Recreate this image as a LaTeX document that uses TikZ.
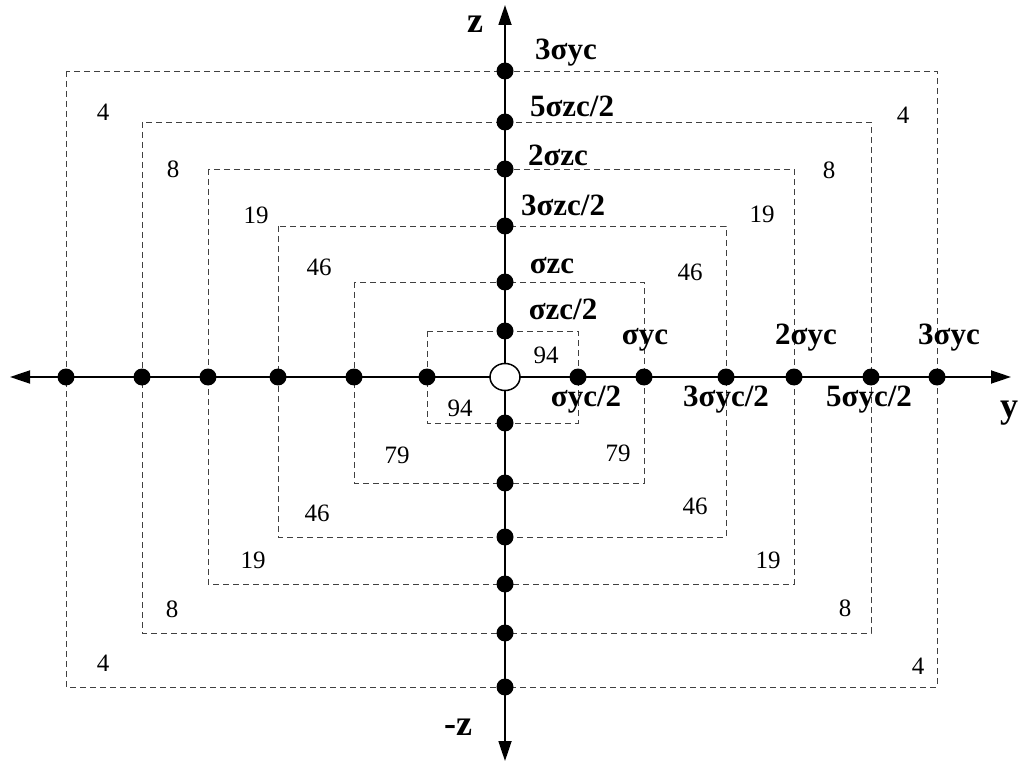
\documentclass[tikz,border=0pt]{standalone}
\usepackage{fontspec}
\setmainfont{Liberation Serif}
\usetikzlibrary{arrows.meta,shapes.geometric}
\begin{document}
\begin{tikzpicture}[x=1pt,y=-1pt,
  zone/.style={draw=black!75,line width=0.9pt,dash pattern=on 6pt off 4pt},
  axisline/.style={line width=1.8pt,-{Triangle[length=20pt,width=13pt]}},
  dotnode/.style={circle,fill=black,inner sep=0pt,minimum size=17pt},
  tag/.style={inner sep=0pt,font=\fontsize{31}{32}\selectfont\bfseries},
  axlab/.style={inner sep=0pt,font=\fontsize{36}{37}\selectfont\bfseries},
  pct/.style={inner sep=0pt,font=\fontsize{25}{26}\selectfont}]
\useasboundingbox (0,0) rectangle (1021,762);

% nested dashed zones
\draw[zone] (66,71) rectangle (937,687);
\draw[zone] (142,122) rectangle (871,633);
\draw[zone] (208,169) rectangle (794,584);
\draw[zone] (278,226) rectangle (726,537);
\draw[zone] (354,282) rectangle (644,483);
\draw[zone] (427,331) rectangle (578,423);

% axes
\coordinate (c) at (505,377);
\coordinate (yl) at (10,377);
\coordinate (yr) at (1011,377);
\coordinate (zt) at (505,5);
\coordinate (zb) at (505,761);
\draw[axisline] (c) -- (yr);
\draw[axisline] (c) -- (yl);
\draw[axisline] (c) -- (zt);
\draw[axisline] (c) -- (zb);

% points on the y axis
\foreach \n/\x in {h1/66,h2/142,h3/208,h4/278,h5/354,h6/427,
                   h7/578,h8/644,h9/726,h10/794,h11/871,h12/937}
  \node[dotnode] (\n) at (\x,377) {};
% points on the z axis
\foreach \n/\y in {v1/71,v2/122,v3/169,v4/226,v5/282,v6/331,
                   v7/423,v8/483,v9/537,v10/584,v11/633,v12/687}
  \node[dotnode] (\n) at (505,\y) {};
% centroid
\node[ellipse,draw,fill=white,line width=1.5pt,inner sep=0pt,
      minimum width=30pt,minimum height=27pt] (o) at (c) {};

% axis names
\node[axlab] (lz) at (475,24) {z};
\node[axlab] (lmz) at (458,727) {-z};
\node[axlab] (ly) at (1009,413) {y};

% z-axis stresses
\node[tag] (t1) at (566,53) {3σyc};
\node[tag] (t2) at (572,106) {5σzc/2};
\node[tag] (t3) at (558,155) {2σzc};
\node[tag] (t4) at (563,205) {3σzc/2};
\node[tag] (t5) at (552,266) {σzc};
\node[tag] (t6) at (563,309) {σzc/2};
% y-axis stresses
\node[tag] (s1) at (645,340) {σyc};
\node[tag] (s2) at (806,338) {2σyc};
\node[tag] (s3) at (949,338) {3σyc};
\node[tag] (s4) at (586,400) {σyc/2};
\node[tag] (s5) at (726,400) {3σyc/2};
\node[tag] (s6) at (869,400) {5σyc/2};

% zone values
\node[pct] (p1) at (103,112) {4};
\node[pct] (p2) at (903,115) {4};
\node[pct] (p3) at (103,663) {4};
\node[pct] (p4) at (918,666) {4};
\node[pct] (p5) at (173,169) {8};
\node[pct] (p6) at (829,170) {8};
\node[pct] (p7) at (172,609) {8};
\node[pct] (p8) at (845,608) {8};
\node[pct] (p9) at (256,215) {19};
\node[pct] (p10) at (762,214) {19};
\node[pct] (p11) at (253,560) {19};
\node[pct] (p12) at (768,560) {19};
\node[pct] (p13) at (319,267) {46};
\node[pct] (p14) at (690,272) {46};
\node[pct] (p15) at (317,513) {46};
\node[pct] (p16) at (695,506) {46};
\node[pct] (p17) at (397,455) {79};
\node[pct] (p18) at (618,453) {79};
\node[pct] (p19) at (546,355) {94};
\node[pct] (p20) at (460,408) {94};
\end{tikzpicture}
\end{document}
